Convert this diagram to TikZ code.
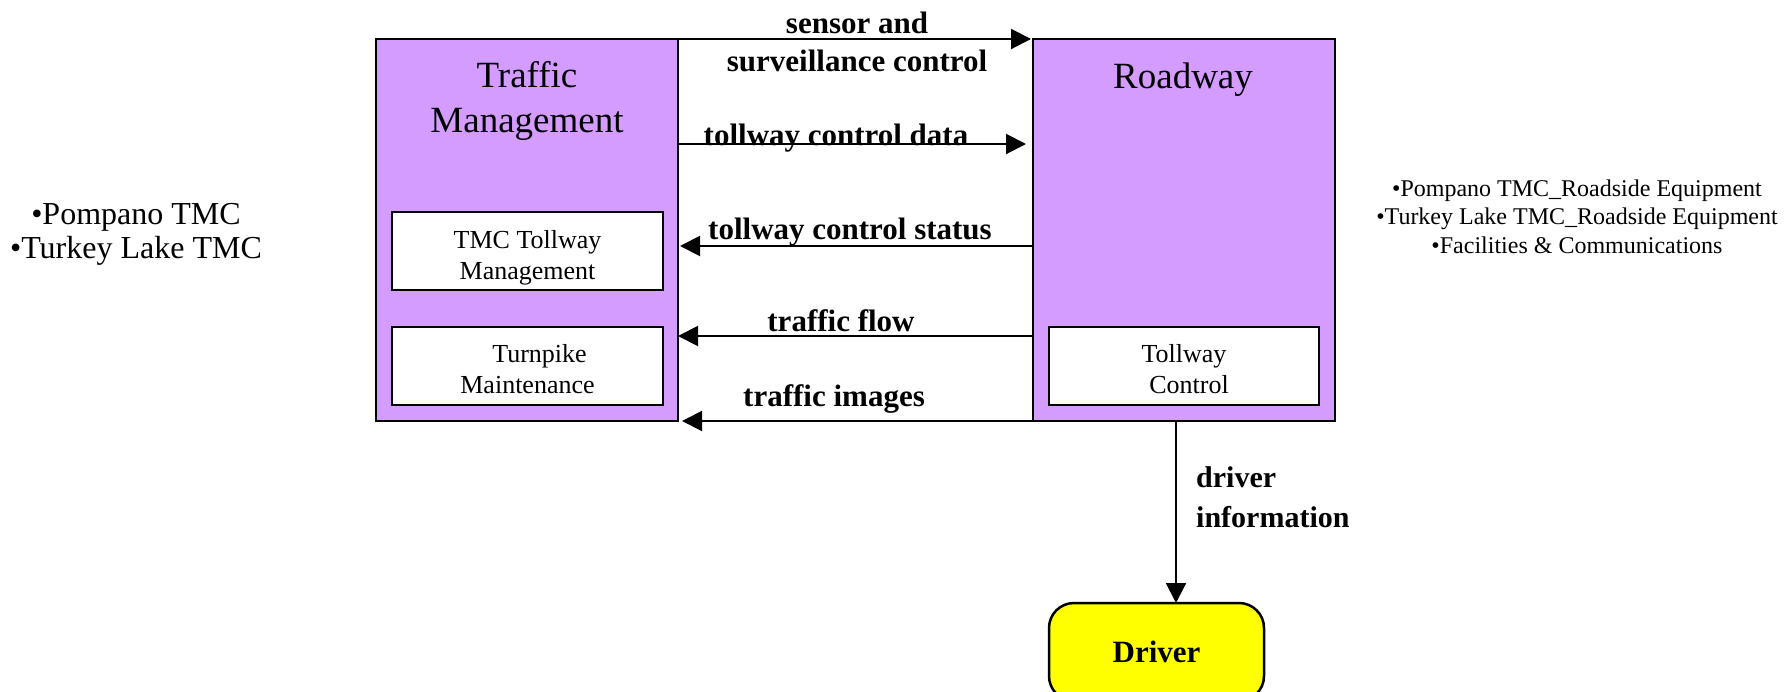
\documentclass[tikz,border=0pt]{standalone}
\usepackage{fontspec}
\setmainfont{Liberation Serif}
\usetikzlibrary{arrows.meta}
\definecolor{lilac}{RGB}{212,156,255}
\definecolor{drvyellow}{RGB}{255,255,0}
\begin{document}
\begin{tikzpicture}[x=1pt,y=-1pt,
  bigbox/.style={draw=black, line width=2.5pt, fill=lilac, inner sep=0pt, outer sep=0pt},
  subbox/.style={draw=black, line width=2.5pt, fill=white, inner sep=0pt, outer sep=0pt},
  subtext/.style={inner sep=0pt, anchor=base, align=center, font=\fontsize{26}{31}\selectfont},
  drvbox/.style={draw=black, line width=2.5pt, fill=drvyellow, rounded corners=25pt,
    inner sep=0pt, outer sep=0pt, font=\fontsize{31}{36}\selectfont\bfseries},
  flow/.style={line width=2pt, -{Triangle[length=20pt,width=20pt]}},
  lbl/.style={font=\fontsize{31}{38}\selectfont\bfseries, inner sep=0pt, anchor=base, align=center},
  title/.style={font=\fontsize{37}{45}\selectfont, inner sep=0pt, anchor=base, align=center},
  note/.style={inner sep=0pt, anchor=base, align=center}
]
\useasboundingbox (0,0) rectangle (1785,691);

% main boxes
\node[bigbox, minimum width=302pt, minimum height=382pt, anchor=north west] (tm) at (376,39) {};
\node[bigbox, minimum width=302pt, minimum height=382pt, anchor=north west] (rw) at (1033,39) {};

% titles (base = last line)
\node[title] (tmt) at (527,132) {Traffic\\Management};
\node[title] (rwt) at (1183,88) {Roadway};

% sub boxes
\node[subbox, minimum width=271pt, minimum height=78pt, anchor=north west] (tmc) at (392,212) {};
\node[subbox, minimum width=271pt, minimum height=78pt, anchor=north west] (tpm) at (392,327) {};
\node[subbox, minimum width=270pt, minimum height=78pt, anchor=north west] (tc) at (1049,327) {};
\node[subtext] (tmct) at (tmc.center |- 0,279) {TMC Tollway\\Management};
\node[subtext] (tpmt) at (tpm.center |- 0,393) {\hspace*{24pt}Turnpike\\Maintenance};
\node[subtext] (tct) at (tc.center |- 0,393) {Tollway\\\hspace*{10pt}Control};

% driver
\node[drvbox, minimum width=215pt, minimum height=98pt, anchor=north] (drv) at (1156.5,603) {Driver};

% flows
\draw[flow] (tm.north east) -- ([xshift=-2pt]rw.north west);
\draw[flow] (tm.east |- 0,144) -- ([xshift=-7pt]rw.west |- 0,144);
\draw[flow] (rw.west |- 0,246) -- ([xshift=2pt]tm.east |- 0,246);
\draw[flow] (rw.west |- 0,336) -- (tm.east |- 0,336);
\draw[flow] (rw.south west) -- ([xshift=4pt]tm.south east);
\draw[flow] (rw.south -| 1176,0) -- (drv.north -| 1176,0);

% flow labels
\node[lbl] (l1) at (857,71) {sensor and\\surveillance control};
\node[lbl] (l2) at (836,145) {tollway control data};
\node[lbl] (l3) at (850,239) {tollway control status};
\node[lbl] (l4) at (841,331) {traffic flow};
\node[lbl] (l5) at (834,406) {traffic images};
\node[lbl, anchor=base west, align=left, font=\fontsize{30}{40}\selectfont\bfseries] (l6) at (1196,527) {driver\\information};

% side notes
\node[note, font=\fontsize{32}{34}\selectfont] (nl) at (136,258) {•Pompano TMC\\•Turkey Lake TMC};
\node[note, font=\fontsize{24}{28.5}\selectfont] (nr) at (1577,253) {•Pompano TMC\_Roadside Equipment\\•Turkey Lake TMC\_Roadside Equipment\\•Facilities \& Communications};
\end{tikzpicture}
\end{document}
